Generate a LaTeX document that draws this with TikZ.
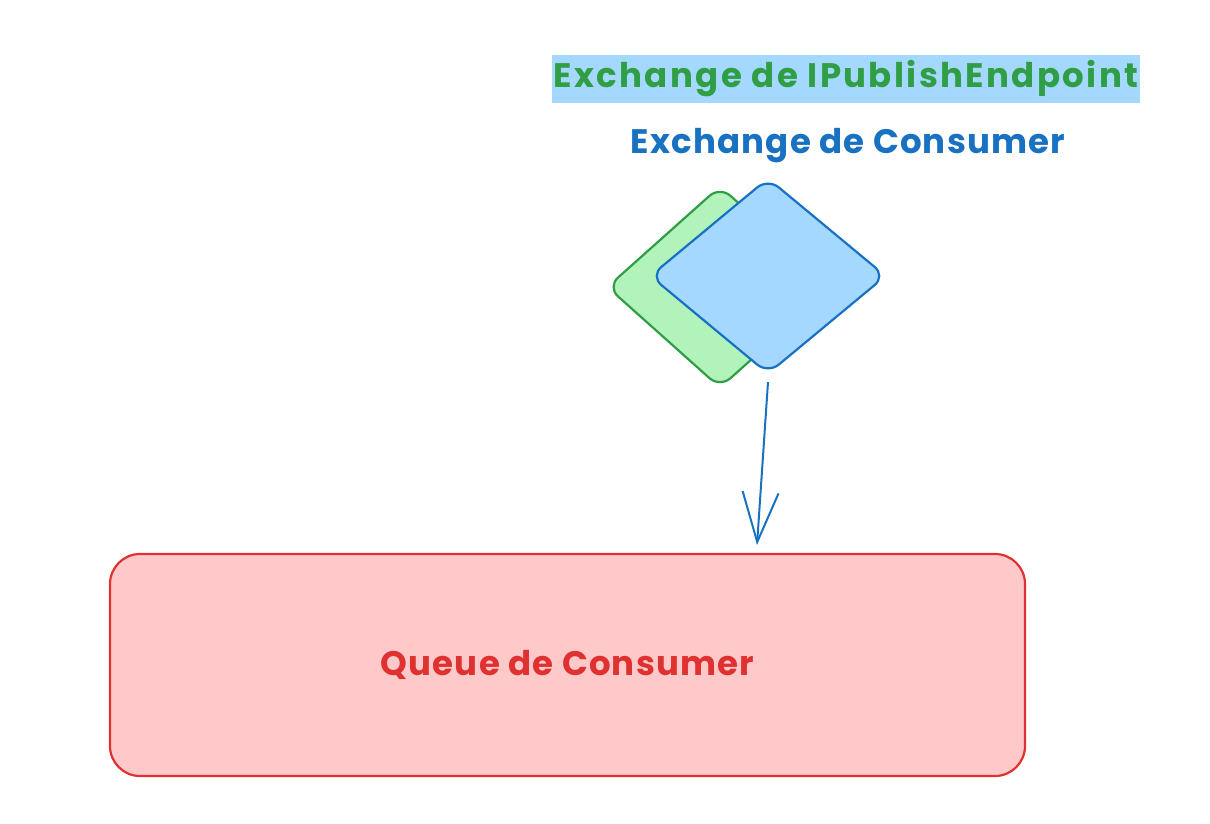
\documentclass[tikz,border=0pt]{standalone}
\usepackage{fontspec}
\usepackage{tikz}
\usetikzlibrary{shapes.geometric,arrows.meta}
\setmainfont{Poppins}

\definecolor{exgreen}{HTML}{2F9E44}
\definecolor{exgreenfill}{HTML}{B2F2BB}
\definecolor{exblue}{HTML}{1971C2}
\definecolor{exbluefill}{HTML}{A5D8FF}
\definecolor{qred}{HTML}{E03131}
\definecolor{qredfill}{HTML}{FFC9C9}

\begin{document}
\begin{tikzpicture}[x=1pt, y=-1pt, line width=2.2pt,
    every node/.style={font=\fontsize{34}{40}\selectfont\bfseries\addfontfeatures{LetterSpace=3.5}},
    exch/.style={diamond, draw, inner sep=0pt, rounded corners=14pt},
    arr/.style={-{Straight Barb[length=50pt, width=36pt, line width=2pt]}, draw=exblue, line width=2pt}]
  \useasboundingbox (0,0) rectangle (1210,824);

  \node (pubtitle) at (846,79) [fill=exbluefill, text=exgreen, minimum width=588pt, minimum height=48pt, inner sep=0pt, font=\fontsize{34}{40}\selectfont\bfseries\addfontfeatures{LetterSpace=7}] {Exchange de IPublishEndpoint};
  \node (contitle) at (848,146) [text=exblue] {Exchange de Consumer};

  \node (pubexch) at (720,287) [exch, draw=exgreen, fill=exgreenfill, minimum width=226pt, minimum height=202pt] {};
  \node (conexch) at (768,276) [exch, draw=exblue, fill=exbluefill, minimum width=236pt, minimum height=196pt] {};

  \node (queue) at (567.5,665) [draw=qred, fill=qredfill, text=qred, rounded corners=30pt, minimum width=915pt, minimum height=222pt] {Queue de Consumer};

  \coordinate (qin) at (757,545);
  \draw[arr] ([yshift=-7pt]conexch.south) -- (qin);
\end{tikzpicture}
\end{document}
